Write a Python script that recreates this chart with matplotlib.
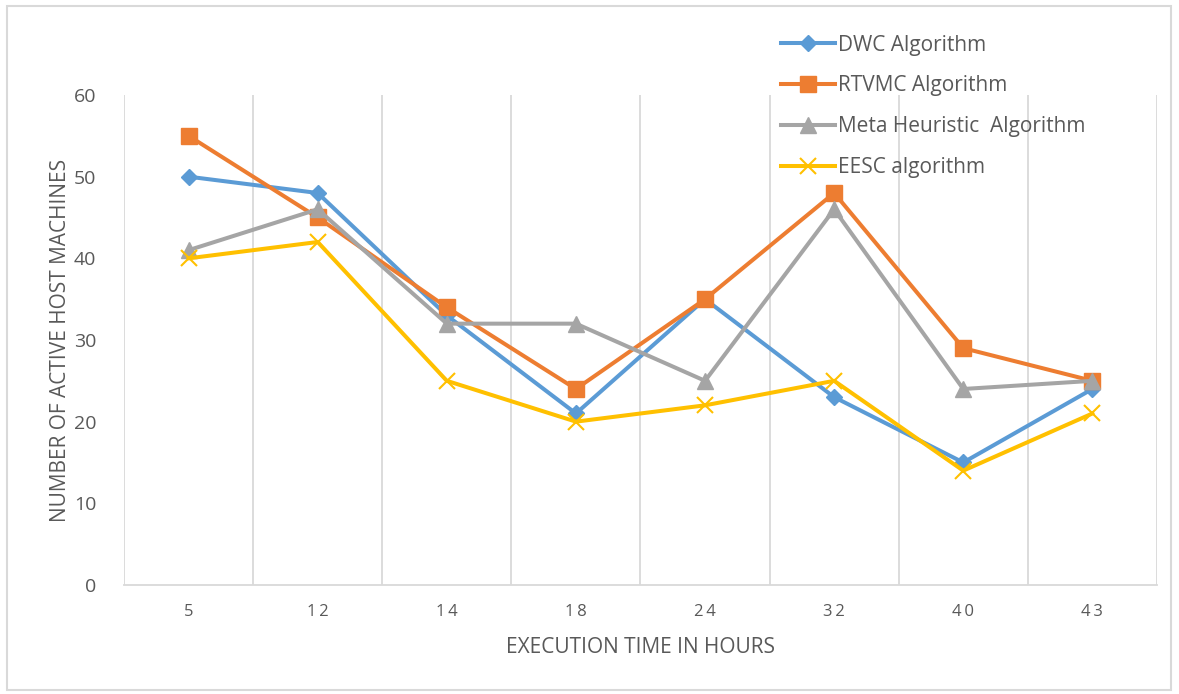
import matplotlib.pyplot as plt
from matplotlib.patches import Rectangle

plt.rcParams['font.family'] = ['Open Sans', 'DejaVu Sans']

hours = ["5", "12", "14", "18", "24", "32", "40", "43"]
dwc = [50, 48, 33, 21, 35, 23, 15, 24]
rtvmc = [55, 45, 34, 24, 35, 48, 29, 25]
meta = [41, 46, 32, 32, 25, 46, 24, 25]
eesc = [40, 42, 25, 20, 22, 25, 14, 21]

txt = "#595959"
grid = "#D9D9D9"

fig = plt.figure(figsize=(11.79, 6.94), dpi=100)
ax = fig.add_axes([0.1052, 0.1571, 0.8761, 0.706])

x = range(len(hours))
ax.plot(x, dwc, color="#5B9BD5", lw=2.9, marker="D", ms=8, label="DWC Algorithm")
ax.plot(x, rtvmc, color="#ED7D31", lw=2.9, marker="s", ms=11, label="RTVMC Algorithm")
ax.plot(x, meta, color="#A5A5A5", lw=2.9, marker="^", ms=11, label="Meta Heuristic  Algorithm")
ax.plot(x, eesc, color="#FFC000", lw=2.9, marker="x", ms=11, mew=1.5, label="EESC algorithm")

ax.set_xlim(-0.5, len(hours) - 0.5)
ax.set_ylim(0, 60)
ax.set_yticks(range(0, 61, 10))
ax.set_xticks(list(x))
ax.set_xticklabels(["\u2009".join(h) for h in hours])
ax.set_xticks([i - 0.5 for i in range(len(hours) + 1)], minor=True)
ax.grid(which="minor", axis="x", color=grid, lw=1.3)
ax.set_axisbelow(True)
ax.tick_params(which="both", length=0)
ax.tick_params(axis="y", pad=20, labelsize=14, labelcolor=txt)
ax.tick_params(axis="x", pad=14, labelsize=12, labelcolor=txt)
for s in ["top", "right", "left"]:
    ax.spines[s].set_visible(False)
ax.spines["bottom"].set_color(grid)
ax.spines["bottom"].set_linewidth(1.3)

ax.set_xlabel("EXECUTION TIME IN HOURS", fontsize=15, color=txt, labelpad=12)
ax.set_ylabel("NUMBER OF ACTIVE HOST MACHINES", fontsize=15, color=txt, labelpad=2)

leg = fig.legend(loc="upper left", bbox_to_anchor=(0.655, 0.962), frameon=False,
                 fontsize=15, labelcolor=txt, handlelength=2.6, labelspacing=0.95,
                 handletextpad=0.15, borderaxespad=0)

fig.patches.append(Rectangle((0.006, 0.006), 0.987, 0.985, transform=fig.transFigure,
                             fill=False, edgecolor=grid, lw=1.5))

fig.savefig("out.png", dpi=100)
